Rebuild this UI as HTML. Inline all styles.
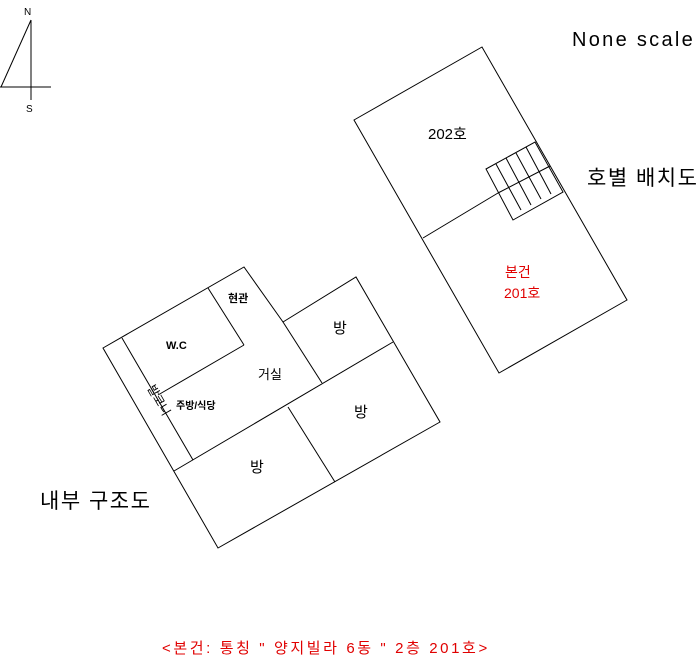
<!DOCTYPE html>
<html><head><meta charset="utf-8"><style>
html,body{margin:0;padding:0;background:#fff;}
svg{display:block;}
text{font-family:"Liberation Sans","Noto Sans CJK KR",sans-serif;}
</style></head><body>
<svg width="700" height="663" viewBox="0 0 700 663" xmlns="http://www.w3.org/2000/svg">
<g stroke="#000" stroke-width="1" fill="none">
<line x1="31" y1="20" x2="31" y2="100"/>
<line x1="0" y1="87" x2="51" y2="87"/>
<line x1="31" y1="20" x2="1" y2="87"/>
<polygon points="354,120 482,47 627,300 499,373"/>
<line x1="423" y1="238" x2="498" y2="193"/>
<polygon points="486,169 535,142 563,192 513,220"/>
<line x1="498" y1="193" x2="550" y2="166"/>
<line x1="496" y1="164" x2="521" y2="210"/>
<line x1="506" y1="158" x2="531" y2="205"/>
<line x1="516" y1="153" x2="541" y2="199"/>
<line x1="526" y1="147" x2="551" y2="194"/>
<polygon points="103,348 244,267 283,322 356,277 440,422 218,548"/>
<line x1="122" y1="338" x2="193" y2="460"/>
<line x1="174" y1="471" x2="393" y2="342"/>
<line x1="208" y1="288" x2="244" y2="345"/>
<line x1="244" y1="345" x2="158" y2="395"/>
<line x1="283" y1="322" x2="322" y2="383"/>
<line x1="288" y1="407" x2="335" y2="482"/>
</g>
<text x="24" y="15" font-size="10" fill="#000">N</text>
<text x="26" y="112" font-size="10" fill="#000">S</text>
<text x="572" y="46" font-size="20" fill="#000" letter-spacing="2.3">None scale</text>
<text x="587" y="185" font-size="21" fill="#000" letter-spacing="1.5">호별 배치도</text>
<text x="428" y="139" font-size="15" fill="#000">202호</text>
<text x="505" y="277" font-size="14" fill="#e00000">본건</text>
<text x="504" y="298" font-size="14" fill="#e00000">201호</text>
<text x="228" y="302" font-size="11" font-weight="bold" fill="#000">현관</text>
<text x="166" y="349" font-size="11" font-weight="bold" fill="#000">W.C</text>
<text x="258" y="379" font-size="13" fill="#000">거실</text>
<text x="176" y="409" font-size="10" font-weight="bold" fill="#000">주방/식당</text>
<text x="0" y="0" font-size="12" fill="#000" transform="translate(147,388) rotate(60)">발코니</text>
<text x="333" y="333" font-size="15" fill="#000">방</text>
<text x="354" y="417" font-size="15" fill="#000">방</text>
<text x="250" y="472" font-size="15" fill="#000">방</text>
<text x="40" y="508" font-size="21" fill="#000" letter-spacing="1.5">내부 구조도</text>
<text x="162" y="653" font-size="15" fill="#e00000" letter-spacing="2.6">&lt;본건: 통칭 " 양지빌라 6동 " 2층 201호&gt;</text>
</svg>
</body></html>
